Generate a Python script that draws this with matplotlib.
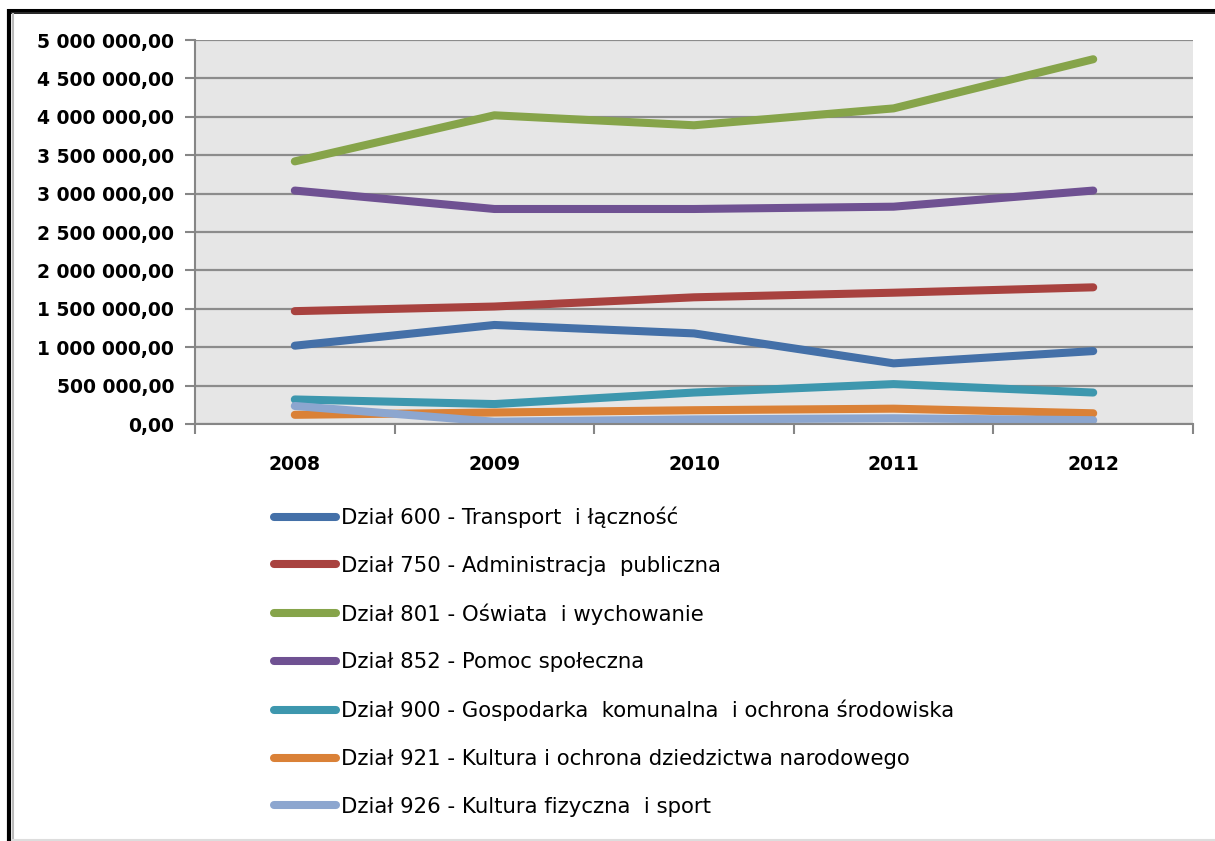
import matplotlib.pyplot as plt
import matplotlib.ticker as mticker
from matplotlib.lines import Line2D

years = ['2008', '2009', '2010', '2011', '2012']

dzial_600 = [1020000, 1290000, 1180000, 790000, 950000]
dzial_750 = [1470000, 1530000, 1650000, 1710000, 1780000]
dzial_801 = [3420000, 4020000, 3890000, 4110000, 4750000]
dzial_852 = [3040000, 2800000, 2800000, 2830000, 3040000]
dzial_900 = [320000, 260000, 410000, 520000, 410000]
dzial_921 = [120000, 150000, 180000, 200000, 140000]
dzial_926 = [235000, 30000, 60000, 75000, 50000]

labels = [
    'Dział 600 - Transport  i łączność',
    'Dział 750 - Administracja  publiczna',
    'Dział 801 - Oświata  i wychowanie',
    'Dział 852 - Pomoc społeczna',
    'Dział 900 - Gospodarka  komunalna  i ochrona środowiska',
    'Dział 921 - Kultura i ochrona dziedzictwa narodowego',
    'Dział 926 - Kultura fizyczna  i sport',
]
colors = ['#4470A8', '#A8423F', '#86A44A', '#6F5192', '#3D97AE', '#DA8137', '#8CA6CF']
series = [dzial_600, dzial_750, dzial_801, dzial_852, dzial_900, dzial_921, dzial_926]

fig = plt.figure(figsize=(12.15, 8.41), dpi=100)
ax = fig.add_axes([0.1605, 0.4958, 0.8214, 0.4566])
ax.set_facecolor('#E6E6E6')

x = list(range(len(years)))
for vals, c, lab in zip(series, colors, labels):
    ax.plot(x, vals, color=c, lw=5.8, label=lab,
            solid_capstyle='round', solid_joinstyle='round')

ax.set_ylim(0, 5000000)
ax.set_xlim(-0.5, 4.5)
ax.yaxis.set_major_locator(mticker.MultipleLocator(500000))
ax.yaxis.set_major_formatter(mticker.FuncFormatter(
    lambda v, p: f'{v:,.2f}'.replace(',', ' ').replace('.', ',')))
ax.grid(axis='y', color='#8C8C8C', lw=1.6)
ax.set_axisbelow(True)

# category boundaries as ticks, labels at centres
ax.set_xticks([i - 0.5 for i in range(len(years) + 1)])
ax.set_xticklabels([])
ax.set_xticks(x, minor=True)
ax.set_xticklabels(years, minor=True, fontweight='bold', fontsize=13.5)
ax.tick_params(axis='x', which='minor', length=0, pad=22)
ax.tick_params(axis='x', which='major', length=7, color='#868686', width=1.5)
ax.tick_params(axis='y', length=7, color='#868686', width=1.5, pad=8)
for t in ax.get_yticklabels():
    t.set_fontweight('bold')
    t.set_fontsize(13.5)

for s in ['top', 'right']:
    ax.spines[s].set_visible(False)
for s in ['left', 'bottom']:
    ax.spines[s].set_color('#868686')
    ax.spines[s].set_linewidth(1.5)

leg = ax.legend(loc='upper left', bbox_to_anchor=(0.2097, 0.4205),
                bbox_transform=fig.transFigure, frameon=False,
                handlelength=2.9, handletextpad=0.25, labelspacing=1.3,
                prop={'size': 15.3})

# frame around the picture
W, H = 1215, 841
fig.add_artist(Line2D([7 / W, 1], [1 - 9.7 / H] * 2, color='black', lw=2.2,
                      solid_capstyle='butt'))
fig.add_artist(Line2D([11 / W, 1], [1 - 12.7 / H] * 2, color='black', lw=1.2,
                      solid_capstyle='butt'))
fig.add_artist(Line2D([9 / W] * 2, [0, 1 - 8.5 / H], color='black', lw=3,
                      solid_capstyle='butt'))
fig.add_artist(Line2D([13 / W] * 2, [0, 1 - 13 / H], color='#BBBBBB', lw=1.5,
                      solid_capstyle='butt'))
fig.add_artist(Line2D([11 / W, 1], [1.5 / H] * 2, color='#DDDDDD', lw=1.5,
                      solid_capstyle='butt'))

fig.savefig('out.png', dpi=100)
